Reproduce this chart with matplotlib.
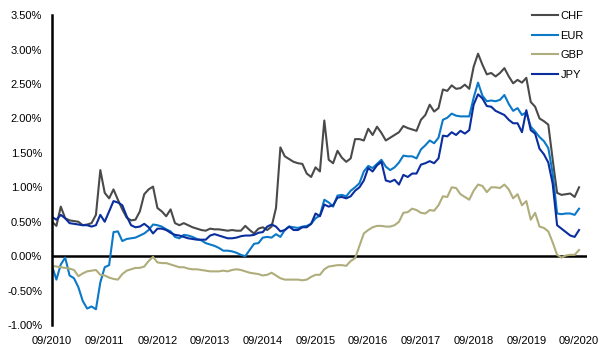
import numpy as np
import matplotlib
matplotlib.use('Agg')
import matplotlib.pyplot as plt
import matplotlib.ticker as ticker

plt.rcParams['font.family'] = ['Liberation Sans', 'DejaVu Sans']

# monthly points, 09/2010 .. 09/2020, values in %
chf = [0.50, 0.44, 0.72, 0.55, 0.52, 0.51, 0.50, 0.45, 0.46, 0.48,
       0.60, 1.25, 0.92, 0.84, 0.97, 0.82, 0.68, 0.56, 0.52, 0.53,
       0.65, 0.90, 0.97, 1.01, 0.70, 0.65, 0.58, 0.68, 0.48, 0.45,
       0.48, 0.45, 0.42, 0.40, 0.38, 0.37, 0.40, 0.39, 0.39, 0.38,
       0.37, 0.38, 0.37, 0.37, 0.44, 0.38, 0.33, 0.40, 0.42, 0.38,
       0.43, 0.70, 1.58, 1.45, 1.41, 1.37, 1.35, 1.34, 1.20, 1.15,
       1.29, 1.23, 1.97, 1.40, 1.35, 1.53, 1.43, 1.37, 1.42, 1.70,
       1.70, 1.68, 1.85, 1.76, 1.88, 1.79, 1.68, 1.72, 1.76, 1.80,
       1.89, 1.86, 1.84, 1.82, 1.98, 2.05, 2.20, 2.10, 2.15, 2.42,
       2.40, 2.48, 2.43, 2.44, 2.49, 2.43, 2.75, 2.94, 2.78, 2.64,
       2.66, 2.61, 2.66, 2.73, 2.61, 2.51, 2.56, 2.52, 2.59, 2.24,
       2.17, 2.00, 1.96, 1.91, 1.40, 0.92, 0.89, 0.90, 0.91, 0.86,
       1.00]
eur = [-0.14, -0.34, -0.12, -0.02, -0.28, -0.32, -0.45, -0.65, -0.76, -0.73,
       -0.77, -0.38, -0.16, -0.13, 0.35, 0.36, 0.22, 0.25, 0.26, 0.27,
       0.30, 0.33, 0.38, 0.46, 0.45, 0.43, 0.39, 0.36, 0.28, 0.26,
       0.31, 0.30, 0.28, 0.25, 0.23, 0.19, 0.17, 0.15, 0.12, 0.08,
       0.08, 0.07, 0.05, 0.02, 0.00, 0.09, 0.18, 0.19, 0.27, 0.28,
       0.27, 0.32, 0.28, 0.38, 0.43, 0.42, 0.41, 0.43, 0.44, 0.47,
       0.55, 0.59, 0.82, 0.78, 0.72, 0.88, 0.89, 0.87, 0.95, 1.00,
       1.06, 1.23, 1.31, 1.28, 1.34, 1.40, 1.30, 1.25, 1.29, 1.36,
       1.46, 1.45, 1.45, 1.42, 1.55, 1.61, 1.68, 1.64, 1.72, 1.98,
       2.01, 2.07, 2.04, 2.03, 2.03, 2.03, 2.30, 2.52, 2.33, 2.25,
       2.26, 2.25, 2.27, 2.34, 2.21, 2.11, 2.15, 2.05, 2.09, 1.88,
       1.81, 1.73, 1.67, 1.57, 1.20, 0.62, 0.61, 0.62, 0.62, 0.60,
       0.69]
gbp = [-0.14, -0.15, -0.16, -0.17, -0.18, -0.20, -0.29, -0.25, -0.22, -0.21,
       -0.20, -0.27, -0.28, -0.31, -0.33, -0.34, -0.26, -0.21, -0.19, -0.17,
       -0.17, -0.15, -0.07, -0.01, -0.09, -0.10, -0.10, -0.12, -0.14, -0.16,
       -0.16, -0.18, -0.19, -0.19, -0.20, -0.21, -0.22, -0.22, -0.22, -0.21,
       -0.22, -0.20, -0.19, -0.20, -0.22, -0.24, -0.25, -0.26, -0.28, -0.27,
       -0.24, -0.28, -0.32, -0.34, -0.34, -0.34, -0.34, -0.35, -0.34, -0.30,
       -0.27, -0.27, -0.19, -0.15, -0.14, -0.13, -0.13, -0.14, -0.07, -0.03,
       0.15, 0.33, 0.38, 0.42, 0.44, 0.44, 0.43, 0.43, 0.45, 0.50,
       0.63, 0.64, 0.69, 0.67, 0.63, 0.62, 0.67, 0.66, 0.74, 0.87,
       0.86, 1.00, 0.99, 0.90, 0.86, 0.82, 0.95, 1.04, 1.02, 0.93,
       1.00, 1.00, 0.99, 1.04, 0.97, 0.84, 0.90, 0.74, 0.80, 0.53,
       0.63, 0.43, 0.41, 0.36, 0.20, 0.02, -0.02, 0.01, 0.02, 0.02,
       0.09]
jpy = [0.57, 0.53, 0.60, 0.55, 0.48, 0.47, 0.46, 0.45, 0.45, 0.43,
       0.45, 0.60, 0.50, 0.65, 0.80, 0.78, 0.74, 0.58, 0.45, 0.42,
       0.43, 0.47, 0.42, 0.33, 0.40, 0.40, 0.38, 0.34, 0.31, 0.30,
       0.28, 0.26, 0.25, 0.24, 0.24, 0.24, 0.30, 0.32, 0.30, 0.28,
       0.26, 0.26, 0.27, 0.29, 0.30, 0.30, 0.31, 0.34, 0.35, 0.43,
       0.46, 0.43, 0.36, 0.38, 0.43, 0.38, 0.38, 0.42, 0.42, 0.47,
       0.62, 0.58, 0.75, 0.72, 0.74, 0.85, 0.86, 0.84, 0.87, 0.95,
       1.00, 1.10, 1.28, 1.23, 1.32, 1.37, 1.10, 1.08, 1.11, 1.04,
       1.18, 1.15, 1.20, 1.20, 1.33, 1.35, 1.38, 1.35, 1.42, 1.75,
       1.74, 1.80, 1.76, 1.82, 1.78, 1.83, 2.20, 2.35, 2.29, 2.18,
       2.17, 2.11, 2.08, 2.05, 1.98, 1.93, 1.93, 1.80, 2.12, 1.83,
       1.78, 1.56, 1.48, 1.36, 1.05, 0.45, 0.40, 0.35, 0.30, 0.28,
       0.38]

series = ['CHF', 'EUR', 'GBP', 'JPY']
colors = ['#4a4a4a', '#0b78c8', '#b0ad7c', '#0a2e9e']
tick_labels = ['09/%d' % y for y in range(2010, 2021)]

months = np.arange(len(chf))

fig, ax = plt.subplots(figsize=(6.02, 3.6), dpi=100, facecolor='w')
fig.subplots_adjust(left=0.0864, right=0.975, bottom=0.097, top=0.958)

for name, vals, c in zip(series, [chf, eur, gbp, jpy], colors):
    ax.plot(months, vals, color=c, linewidth=1.5, label=name)

ax.axhline(0, color='black', linewidth=1.8, zorder=1)

ax.set_xlim(0, 121.8)
ax.set_ylim(-1.0, 3.5)
ax.yaxis.set_major_locator(ticker.MultipleLocator(0.5))
ax.yaxis.set_major_formatter(ticker.FuncFormatter(lambda v, p: '%.2f%%' % v))
ax.set_xticks(np.arange(0, 121, 12))
ax.set_xticklabels(tick_labels)

ax.tick_params(axis='both', length=0, labelsize=8, colors='black')
ax.tick_params(axis='y', pad=7)
ax.tick_params(axis='x', pad=8)

for s in ['top', 'right', 'bottom']:
    ax.spines[s].set_visible(False)
ax.spines['left'].set_linewidth(1.8)

ax.legend(loc='upper right', bbox_to_anchor=(1.013, 1.045), frameon=False, fontsize=8,
          handlelength=2.4, handletextpad=0.2, labelspacing=0.85)

fig.savefig('out.png', dpi=100)
